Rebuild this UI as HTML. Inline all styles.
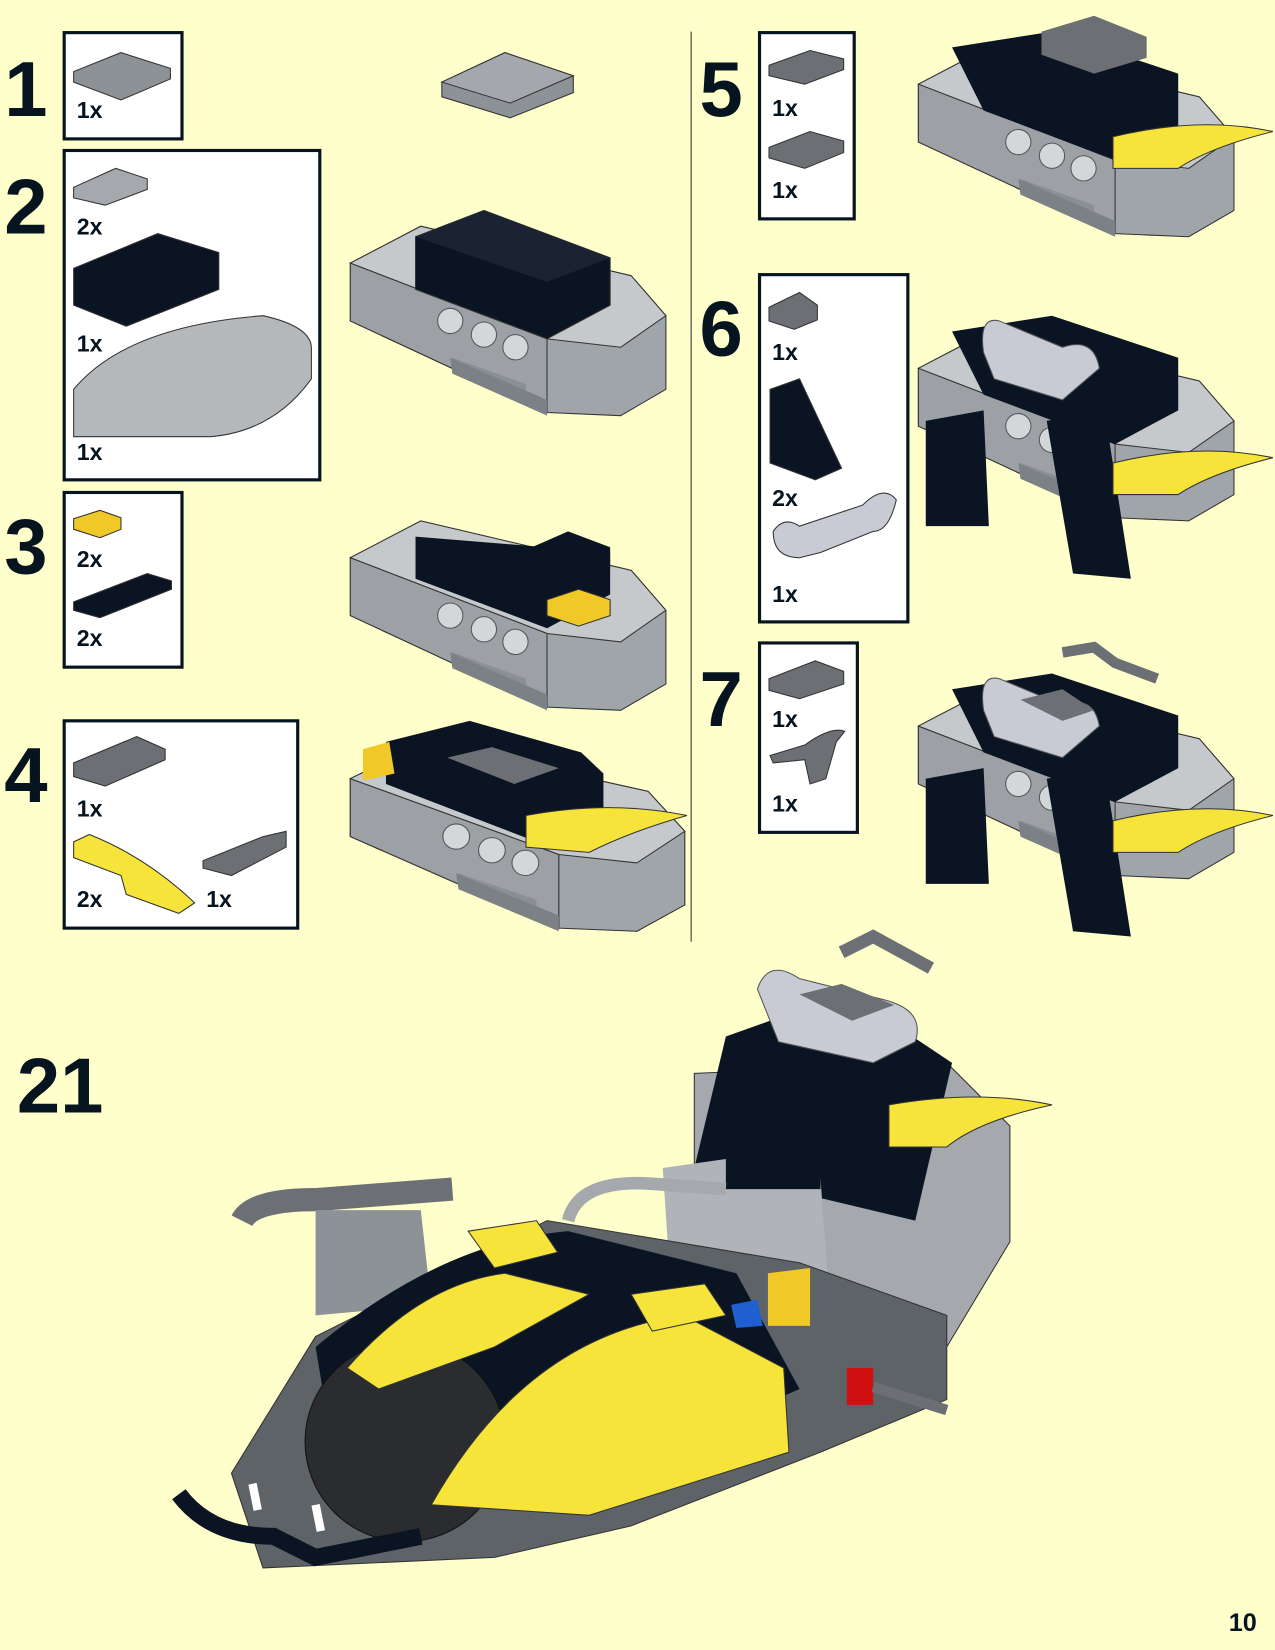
<!DOCTYPE html>
<html><head><meta charset="utf-8"><style>
html,body{margin:0;padding:0;background:#FFFFCC;}
svg{display:block}
text{font-family:"Liberation Sans",sans-serif;font-weight:bold;fill:#06141f}
</style></head><body>
<svg width="1275" height="1650" viewBox="0 0 1212 1568" preserveAspectRatio="none" xmlns="http://www.w3.org/2000/svg">
<defs>
<g id="base">
  <polygon points="333,250 400,215 600,262 633,300 633,370 590,395 520,392 333,305" fill="#a0a5a9" stroke="#333" stroke-width="1"/>
  <polygon points="333,250 400,215 600,262 633,300 590,330 520,322" fill="#c6c9cc" stroke="#333" stroke-width="1"/>
  <polygon points="333,250 520,322 520,392 333,305" fill="#9da1a6" stroke="#333"/>
  <polygon points="430,340 500,365 500,378 430,352" fill="#8a8f94"/>
  <circle cx="428" cy="305" r="12" fill="#d4d7da" stroke="#555"/>
  <circle cx="460" cy="318" r="12" fill="#d4d7da" stroke="#555"/>
  <circle cx="490" cy="330" r="12" fill="#d4d7da" stroke="#555"/>
  <polygon points="428,340 520,380 520,395 430,355" fill="#7c8186"/>
</g>
<g id="blackbrick">
  <polygon points="395,225 460,200 580,245 580,290 520,322 395,275" fill="#0b1422" stroke="#333"/>
  <polygon points="395,225 460,200 580,245 520,268" fill="#1b2332"/>
</g>
</defs>

<rect x="0" y="0" width="1212" height="1568" fill="#FFFFCC"/>
<line x1="657" y1="30" x2="657" y2="895" stroke="#333" stroke-width="1"/>

<!-- step numbers -->
<text x="4" y="110" font-size="74">1</text>
<text x="4" y="222" font-size="74">2</text>
<text x="4" y="545" font-size="74">3</text>
<text x="4" y="762" font-size="74">4</text>
<text x="665" y="110" font-size="74">5</text>
<text x="665" y="338" font-size="74">6</text>
<text x="665" y="690" font-size="74">7</text>
<text x="16" y="1057" font-size="74">21</text>
<text x="1168" y="1550" font-size="24">10</text>

<!-- callout boxes -->
<g fill="#fff" stroke="#06141f" stroke-width="3">
<rect x="61" y="31" width="112" height="101"/>
<rect x="61" y="143" width="243" height="313"/>
<rect x="61" y="468" width="112" height="166"/>
<rect x="61" y="685" width="222" height="197"/>
<rect x="722" y="31" width="90" height="177"/>
<rect x="722" y="261" width="141" height="330"/>
<rect x="722" y="611" width="93" height="180"/>
</g>
<g font-size="22">
<text x="73" y="112">1x</text>
<text x="73" y="223">2x</text>
<text x="73" y="334">1x</text>
<text x="73" y="437">1x</text>
<text x="73" y="539">2x</text>
<text x="73" y="614">2x</text>
<text x="73" y="776">1x</text>
<text x="73" y="862">2x</text>
<text x="196" y="862">1x</text>
<text x="734" y="110">1x</text>
<text x="734" y="188">1x</text>
<text x="734" y="342">1x</text>
<text x="734" y="481">2x</text>
<text x="734" y="572">1x</text>
<text x="734" y="691">1x</text>
<text x="734" y="771">1x</text>
</g>

<!-- box part icons -->
<polygon points="70,68 115,50 162,65 162,75 115,95 70,78" fill="#8d9297" stroke="#333"/>
<polygon points="70,178 110,160 140,170 140,180 100,195 70,188" fill="#a5a9ad" stroke="#333"/>
<polygon points="70,255 150,222 208,240 208,275 120,310 70,290" fill="#0b1422" stroke="#333"/>
<path d="M70,370 Q120,310 250,300 Q295,310 296,330 L296,360 Q260,410 200,415 L70,415 Z" fill="#b4b8bb" stroke="#333"/>
<polygon points="70,493 95,485 115,492 115,503 95,511 70,503" fill="#f0c828" stroke="#333"/>
<polygon points="70,572 140,545 163,552 163,560 95,587 70,580" fill="#0b1422" stroke="#333"/>
<polygon points="70,725 130,700 157,712 157,722 100,747 70,738" fill="#6c7075" stroke="#333"/>
<path d="M70,800 L85,793 Q140,815 185,858 L170,868 L120,850 L115,832 L70,815 Z" fill="#f6e43a" stroke="#333"/>
<polygon points="193,818 250,795 272,790 272,805 220,832 193,825" fill="#6c7075" stroke="#333"/>
<polygon points="731,62 770,48 802,56 802,66 765,80 731,72" fill="#6c7075" stroke="#333"/>
<polygon points="731,140 770,125 802,134 802,145 765,160 731,150" fill="#6c7075" stroke="#333"/>
<polygon points="731,292 760,278 777,290 777,304 755,313 731,305" fill="#6c7075" stroke="#333"/>
<polygon points="732,370 760,360 800,445 775,456 732,440" fill="#0b1422" stroke="#333"/>
<path d="M735,505 Q745,490 760,500 L820,480 Q840,460 852,475 Q845,505 830,505 L780,525 L760,530 Q735,530 735,505 Z" fill="#c8cad4" stroke="#333"/>
<polygon points="731,645 775,628 802,638 802,650 760,664 731,656" fill="#6c7075" stroke="#333"/>
<path d="M732,718 L765,708 Q790,690 803,695 L795,705 L785,740 L770,745 L765,722 L735,725 Z" fill="#6c7075" stroke="#333"/>

<!-- step 1 model -->
<polygon points="420,78 480,50 545,72 545,88 485,112 420,92" fill="#8d9297" stroke="#333"/>
<polygon points="420,78 480,50 545,72 485,98" fill="#a4a8ac" stroke="#333"/>

<!-- step 2 -->
<use href="#base"/><use href="#blackbrick"/>
<!-- step 3 -->
<g transform="translate(0,280)">
<use href="#base"/>
<polygon points="365,505 460,468 490,478 490,490 395,528 365,518" fill="#0b1422"/>
<polygon points="395,235 580,250 580,290 520,322 395,275" fill="#0b1422" transform="translate(0,-5)"/>
<polygon points="460,540 540,505 580,520 580,540 500,575 460,560" fill="#0b1422" transform="translate(0,-280)"/>
<polygon points="520,290 550,280 580,290 580,305 550,315 520,305" fill="#f0c828" stroke="#333"/>
</g>
<!-- step 4 -->
<g transform="translate(-20,490) scale(1.06,1)">
<use href="#base"/>
<polygon points="365,215 440,195 540,225 560,245 560,285 500,310 365,255" fill="#0b1422"/>
<polygon points="420,230 460,220 520,240 480,255" fill="#6c7075"/>
</g>
<path d="M500,775 Q580,760 653,775 Q600,790 560,810 L500,805 Z" fill="#f6e43a" stroke="#333"/>
<polygon points="345,712 370,705 375,735 345,742" fill="#f0c828"/>

<!-- right models -->
<g transform="translate(540,-170) scale(1.0,1)">
<use href="#base"/>
<polygon points="365,215 460,200 580,240 580,290 520,322 395,275" fill="#0b1422"/>
<polygon points="450,200 500,185 550,205 550,225 500,240 450,222" fill="#6c7075"/>
</g>
<path d="M1058,130 Q1140,110 1210,125 Q1150,140 1120,160 L1058,160 Z" fill="#f6e43a" stroke="#333"/>
<g transform="translate(540,100)">
<use href="#base"/>
<polygon points="365,215 460,200 580,240 580,290 520,322 395,275" fill="#0b1422"/>
<polygon points="340,300 395,290 400,400 340,400" fill="#0b1422"/>
<polygon points="455,300 510,290 535,450 480,445" fill="#0b1422"/>
<path d="M395,235 Q390,200 410,205 L470,230 Q500,220 505,250 L470,280 L405,260 Z" fill="#c8cad4" stroke="#555"/>
</g>
<path d="M1058,440 Q1140,420 1210,435 Q1150,450 1120,470 L1058,470 Z" fill="#f6e43a" stroke="#333"/>
<g transform="translate(540,440)">
<use href="#base"/>
<polygon points="365,215 460,200 580,240 580,290 520,322 395,275" fill="#0b1422"/>
<polygon points="340,300 395,290 400,400 340,400" fill="#0b1422"/>
<polygon points="455,300 510,290 535,450 480,445" fill="#0b1422"/>
<path d="M395,235 Q390,200 410,205 L470,230 Q500,220 505,250 L470,280 L405,260 Z" fill="#c8cad4" stroke="#555"/>
<polygon points="430,225 470,215 500,235 470,245" fill="#6c7075"/>
<path d="M470,180 L500,175 L520,190 L560,205" stroke="#6c7075" stroke-width="10" fill="none"/>
</g>
<path d="M1058,780 Q1140,760 1210,775 Q1150,790 1120,810 L1058,810 Z" fill="#f6e43a" stroke="#333"/>

<!-- big model 21 -->
<polygon points="660,1020 900,1010 960,1070 960,1180 900,1280 700,1300 660,1200" fill="#a5a9ad" stroke="#333"/>
<polygon points="690,985 760,960 860,980 905,1010 870,1160 660,1110" fill="#0b1422"/>
<path d="M720,940 Q730,910 760,930 L840,950 Q880,960 870,990 L830,1010 L740,990 Z" fill="#c8cad4" stroke="#555"/>
<polygon points="760,945 800,935 850,955 810,970" fill="#6c7075"/>
<path d="M800,905 L830,890 L885,920" stroke="#6c7075" stroke-width="12" fill="none"/>
<path d="M845,1050 Q930,1035 1000,1050 Q930,1065 900,1090 L845,1090 Z" fill="#f6e43a" stroke="#333"/>
<polygon points="630,1110 700,1100 780,1120 790,1260 640,1260" fill="#b0b4b8"/>
<polygon points="690,1080 780,1080 780,1130 690,1130" fill="#0b1422"/>
<path d="M230,1160 Q240,1140 300,1140 L430,1130" stroke="#6c7075" stroke-width="22" fill="none"/>
<polygon points="300,1150 400,1150 410,1240 300,1250" fill="#8d9297"/>
<path d="M300,1270 L520,1160 L760,1200 L900,1250 L900,1330 L780,1380 L600,1450 L470,1480 L250,1490 L220,1400 Z" fill="#5e6368" stroke="#333"/>
<path d="M300,1280 Q420,1180 540,1170 L700,1210 L760,1320 L600,1390 L450,1430 L320,1400 Z" fill="#0b1422"/>
<ellipse cx="385" cy="1370" rx="95" ry="95" fill="#2a2c2f" stroke="#111"/>
<path d="M410,1430 Q500,1270 650,1250 L745,1300 L750,1380 L560,1440 Z" fill="#f6e43a" stroke="#333"/>
<path d="M330,1300 Q400,1220 480,1210 L560,1230 L470,1280 L360,1320 Z" fill="#f6e43a" stroke="#333"/>
<polygon points="445,1170 510,1160 530,1190 470,1205" fill="#f6e43a" stroke="#333"/>
<polygon points="600,1230 670,1220 690,1250 620,1265" fill="#f6e43a" stroke="#333"/>
<path d="M540,1160 Q550,1120 620,1125 L690,1130" stroke="#a5a9ad" stroke-width="12" fill="none"/>
<polygon points="730,1210 770,1205 770,1260 730,1260" fill="#f0c828"/>
<polygon points="695,1240 720,1235 725,1260 700,1262" fill="#1f5fd0"/>
<rect x="805" y="1300" width="25" height="35" fill="#d01010"/>
<path d="M830,1318 L900,1340" stroke="#6c7075" stroke-width="10"/>
<path d="M170,1420 Q200,1460 260,1460 L300,1480 L400,1460" stroke="#0b1422" stroke-width="16" fill="none"/>
<path d="M240,1410 l5,25 M300,1430 l5,25" stroke="#fff" stroke-width="8"/>
</svg>
</body></html>
